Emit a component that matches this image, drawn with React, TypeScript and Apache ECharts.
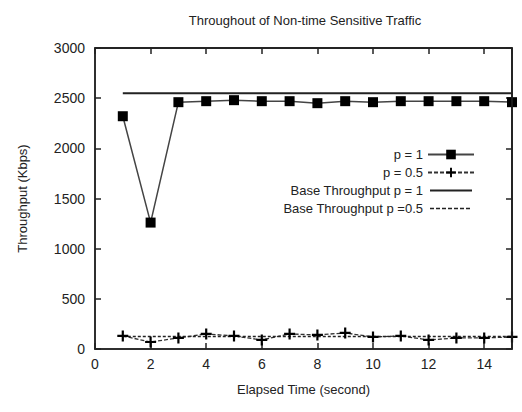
import React, { useEffect, useRef } from "react";
import * as echarts from "echarts";

const xValues = [1, 2, 3, 4, 5, 6, 7, 8, 9, 10, 11, 12, 13, 14, 15];
const p1 = [2320, 1260, 2460, 2470, 2480, 2470, 2470, 2450, 2470, 2460, 2470, 2470, 2470, 2470, 2460];
const p05 = [130, 70, 110, 150, 130, 90, 150, 140, 160, 120, 130, 90, 110, 110, 120];
const baseP1 = [2550, 2550];
const baseP05 = [125, 125];
const baseX = [1, 15];
const seriesNames = ["p = 1", "p = 0.5", "Base Throughput p = 1", "Base Throughput p =0.5"];
const xMax = 15;
const yMax = 3000;

const PLUS = "path://M4,0h2v10h-2zM0,4h10v2h-10z";
const BOUNDS = "M0,0h0.01v0.01h-0.01zM46,12h-0.01v-0.01h0.01z";
const SOLID_ICON = "path://" + BOUNDS + "M2,5h42v2h-42z";
const DASH_ICON =
  "path://" + BOUNDS + "M2,5.3h4v1.4h-4zM8,5.3h4v1.4h-4zM14,5.3h4v1.4h-4zM20,5.3h4v1.4h-4zM26,5.3h4v1.4h-4zM32,5.3h4v1.4h-4zM38,5.3h4v1.4h-4z";

export default function App() {
  const ref = useRef<HTMLDivElement>(null);
  useEffect(() => {
    const chart = echarts.init(ref.current!, null, { renderer: "svg" });
    const font = "Liberation Sans";
    const line = () => ({ show: true, onZero: false, lineStyle: { color: "#222", width: 1.5 } });
    const tick = () => ({ show: true, inside: true, length: 6, lineStyle: { color: "#222", width: 1.5 } });
    chart.setOption({
      animation: false,
      backgroundColor: "#fff",
      title: {
        text: "Throughout of Non-time Sensitive Traffic",
        left: 300,
        top: 9,
        textAlign: "center",
        textStyle: { fontFamily: font, fontSize: 13, fontWeight: "normal", color: "#222" },
      },
      grid: { left: 95, right: 10, top: 48, bottom: 63, show: true, borderColor: "#222", borderWidth: 1.5, backgroundColor: "transparent" },
      legend: {
        orient: "vertical",
        right: 42,
        top: 143,
        align: "right",
        itemGap: 5,
        itemWidth: 46,
        itemHeight: 12,
        data: [
          { name: seriesNames[0] },
          { name: seriesNames[1] },
          { name: seriesNames[2], icon: SOLID_ICON, itemStyle: { color: "#222" } },
          { name: seriesNames[3], icon: DASH_ICON, itemStyle: { color: "#222" } },
        ],
        textStyle: { fontFamily: font, fontSize: 13, color: "#222" },
      },
      xAxis: [
        {
          type: "value",
          min: 0,
          max: xMax,
          interval: 2,
          position: "bottom",
          axisLine: line(),
          axisTick: tick(),
          splitLine: { show: false },
          name: "Elapsed Time (second)",
          nameLocation: "middle",
          nameGap: 34,
          nameTextStyle: { fontFamily: font, fontSize: 13, color: "#222" },
          axisLabel: { fontFamily: font, fontSize: 14, color: "#222", showMaxLabel: false, margin: 8 },
        },
        {
          type: "value",
          min: 0,
          max: xMax,
          interval: 2,
          position: "top",
          axisLine: line(),
          axisTick: tick(),
          splitLine: { show: false },
          axisLabel: { show: false },
        },
      ],
      yAxis: [
        {
          type: "value",
          min: 0,
          max: yMax,
          interval: 500,
          position: "left",
          axisLine: line(),
          axisTick: tick(),
          splitLine: { show: false },
          name: "Throughput (Kbps)",
          nameLocation: "middle",
          nameGap: 66,
          nameTextStyle: { fontFamily: font, fontSize: 13, color: "#222" },
          axisLabel: { fontFamily: font, fontSize: 14, color: "#222", margin: 10, formatter: (v: number) => String(v) },
        },
        {
          type: "value",
          min: 0,
          max: yMax,
          interval: 500,
          position: "right",
          axisLine: line(),
          axisTick: tick(),
          splitLine: { show: false },
          axisLabel: { show: false },
        },
      ],
      series: [
        {
          name: seriesNames[0],
          type: "line",
          clip: false,
          data: xValues.map((x, i) => [x, p1[i]]),
          symbol: "rect",
          symbolSize: 10,
          itemStyle: { color: "#000" },
          lineStyle: { color: "#444", width: 1.5 },
          markLine: {
            silent: true,
            symbol: ["none", "none"],
            label: { show: false },
            emphasis: { disabled: true },
            lineStyle: { type: "solid", color: "#222", width: 1.5 },
            data: [{ yAxis: yMax }, { xAxis: xMax }],
          },
        },
        {
          name: seriesNames[1],
          type: "line",
          data: xValues.map((x, i) => [x, p05[i]]),
          symbol: PLUS,
          symbolSize: 11,
          itemStyle: { color: "#000" },
          lineStyle: { color: "#333", width: 1.3, type: [4, 2] },
        },
        {
          name: seriesNames[2],
          type: "line",
          data: baseX.map((x, i) => [x, baseP1[i]]),
          showSymbol: false,
          symbol: "none",
          itemStyle: { color: "#222" },
          lineStyle: { color: "#222", width: 2 },
        },
        {
          name: seriesNames[3],
          type: "line",
          data: baseX.map((x, i) => [x, baseP05[i]]),
          showSymbol: false,
          symbol: "none",
          itemStyle: { color: "#222" },
          lineStyle: { color: "#222", width: 1.5, type: [3, 2] },
        },
      ],
    });
    return () => chart.dispose();
  }, []);
  return <div ref={ref} style={{ width: 522, height: 412, position: "fixed", left: 0, top: 0 }} />;
}
